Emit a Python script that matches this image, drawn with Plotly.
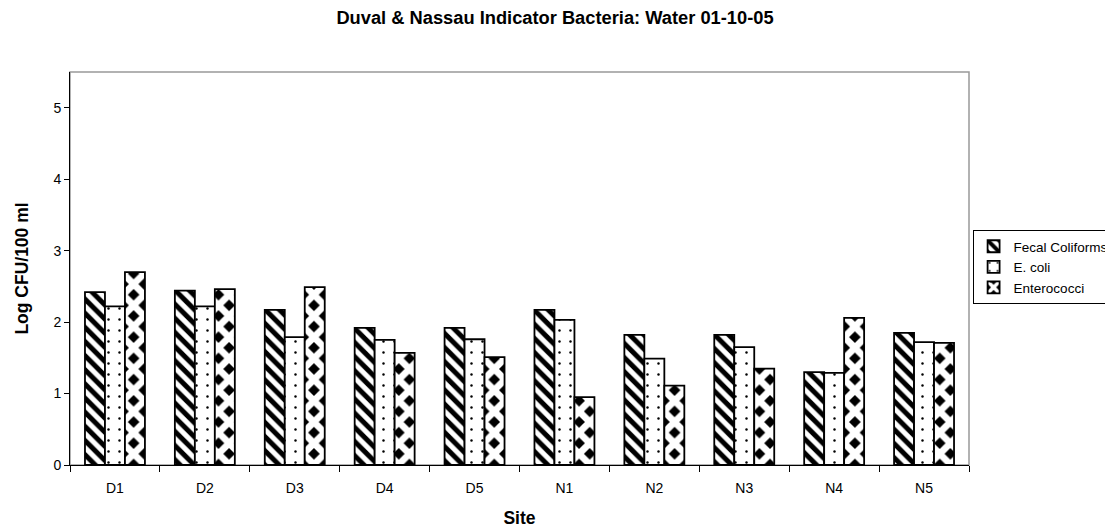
import plotly.graph_objects as go

sites = ["D1", "D2", "D3", "D4", "D5", "N1", "N2", "N3", "N4", "N5"]
fecal_coliforms = [2.42, 2.44, 2.17, 1.92, 1.92, 2.17, 1.82, 1.82, 1.30, 1.85]
e_coli = [2.22, 2.22, 1.79, 1.75, 1.76, 2.03, 1.49, 1.65, 1.29, 1.72]
enterococci = [2.70, 2.46, 2.49, 1.57, 1.51, 0.95, 1.11, 1.35, 2.06, 1.71]
y_ticks = [0, 1, 2, 3, 4, 5]

FONT = "Liberation Sans, Arial, sans-serif"
W, H = 1105, 523  # page body has an 8px margin

fig = go.Figure()
fig.add_trace(go.Bar(
    name="Fecal Coliforms", x=sites, y=fecal_coliforms,
    marker=dict(color="white", line=dict(color="black", width=1.8),
                pattern=dict(shape="\\", fgcolor="black", bgcolor="white",
                             fillmode="replace", size=10, solidity=0.5)),
))
fig.add_trace(go.Bar(
    name="E. coli", x=sites, y=e_coli,
    marker=dict(color="white", line=dict(color="black", width=1.8),
                pattern=dict(shape=".", fgcolor="black", bgcolor="white",
                             fillmode="replace", size=11, solidity=0.04)),
))
fig.add_trace(go.Bar(
    name="Enterococci", x=sites, y=enterococci,
    marker=dict(color="black", line=dict(color="black", width=1.8),
                pattern=dict(shape="x", fgcolor="white", bgcolor="black",
                             fillmode="replace", size=15, solidity=0.7)),
))

fig.update_layout(
    width=W, height=H,
    paper_bgcolor="white", plot_bgcolor="white",
    margin=dict(l=62, r=144, t=64, b=65.5, autoexpand=False),
    barmode="group", bargap=0.333, bargroupgap=0,
    font=dict(family=FONT, size=14, color="black"),
    title=dict(text="<b>Duval & Nassau Indicator Bacteria: Water 01-10-05</b>",
               x=547 / W, xref="container", xanchor="center",
               y=1 - 9.5 / H, yref="container", yanchor="middle",
               font=dict(family=FONT, size=18.3, color="black")),
    legend=dict(x=1.004, y=0.598, xanchor="left", yanchor="top",
                bordercolor="black", borderwidth=1, bgcolor="white",
                font=dict(family=FONT, size=13.5, color="black"),
                tracegroupgap=0, itemwidth=30),
    showlegend=True,
    xaxis=dict(type="category", showline=True, linecolor="black", linewidth=1,
               ticks="outside", ticklen=6, tickcolor="black", tickson="boundaries",
               showgrid=False, zeroline=False, automargin=False,
               ticklabelstandoff=10,
               title=dict(text="<b>Site</b>", font=dict(family=FONT, size=17.5), standoff=16),
               tickfont=dict(family=FONT, size=14)),
    yaxis=dict(range=[0, 5.5], tickvals=y_ticks, showline=True, linecolor="black",
               linewidth=1, ticks="outside", ticklen=5, tickcolor="black",
               showgrid=False, zeroline=False, automargin=False,
               title=dict(text="<b>Log CFU/100 ml</b>", font=dict(family=FONT, size=17.5),
                          standoff=20),
               tickfont=dict(family=FONT, size=14)),
    shapes=[dict(type="rect", xref="paper", yref="paper", x0=0, x1=1, y0=0, y1=1,
                 line=dict(color="#999999", width=1.5), layer="below")],
)

fig.write_html("out.html")
